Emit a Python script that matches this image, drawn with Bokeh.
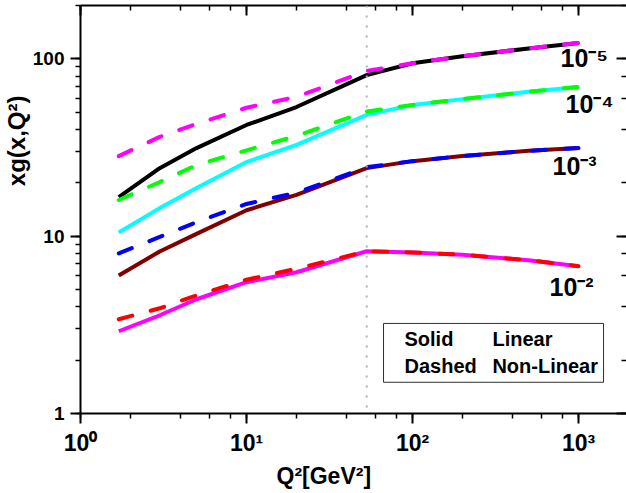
import math
from bokeh.plotting import figure
from bokeh.models import LogAxis, Label, Span, BoxAnnotation, Range1d, LogTicker, Title
from bokeh.embed import file_html
from bokeh.resources import INLINE

# ---- data ----
q2 = [1.7, 3, 5, 10, 20, 53, 100, 200, 500, 1000]
lin_1e5 = [16.6, 24.2, 31.4, 42.4, 53.5, 81.0, 94.5, 103.5, 114.5, 123.0]
nl_1e5 = [28.3, 36.3, 43.0, 53.0, 61.0, 85.5, 94.5, 103.5, 114.5, 123.0]
lin_1e4 = [10.5, 14.4, 18.7, 26.2, 32.7, 48.3, 55.0, 59.3, 65.2, 69.5]
nl_1e4 = [16.0, 20.2, 25.2, 30.5, 36.8, 50.5, 55.0, 59.3, 65.2, 69.5]
lin_1e3 = [6.0, 8.2, 10.3, 14.0, 17.1, 24.2, 26.5, 28.3, 30.3, 31.4]
nl_1e3 = [8.0, 9.9, 12.0, 15.2, 17.6, 24.5, 26.5, 28.3, 30.3, 31.4]
lin_1e2 = [2.91, 3.58, 4.41, 5.5, 6.26, 8.22, 8.1, 7.86, 7.32, 6.77]
nl_1e2 = [3.40, 3.92, 4.64, 5.68, 6.55, 8.22, 8.1, 7.86, 7.32, 6.77]
q2_boundary = 53
x_ticks = [1, 10, 100, 1000]
x_tick_labels = ["10\u2070", "10\u00b9", "10\u00b2", "10\u00b3"]
y_ticks = [1, 10, 100]
y_tick_labels = ["1", "10", "100"]
curve_labels = ["10\u207b\u2075", "10\u207b\u2074", "10\u207b\u00b3", "10\u207b\u00b2"]

FONT = "Liberation Sans"

p = figure(width=626, height=493, x_axis_type="log", y_axis_type="log",
           x_range=Range1d(1, 1946), y_range=Range1d(1, 200),
           output_backend="svg", toolbar_location=None,
           min_border_left=80, min_border_right=0, min_border_top=5, min_border_bottom=80)
p.outline_line_color = None
p.xgrid.visible = False
p.ygrid.visible = False
p.background_fill_color = "white"
p.border_fill_color = "white"

for ax in (p.xaxis[0], p.yaxis[0]):
    ax.axis_line_width = 2
    ax.major_tick_line_width = 2
    ax.minor_tick_line_width = 1.5
    ax.major_tick_out = 10
    ax.major_tick_in = 0
    ax.minor_tick_out = 5
    ax.minor_tick_in = 0
    ax.major_label_standoff = 6
    ax.major_label_text_font = FONT
    ax.major_label_text_font_style = "bold"
    ax.major_label_text_color = "black"

p.xaxis[0].ticker = LogTicker(desired_num_ticks=4)
p.xaxis[0].major_label_overrides = {t: s for t, s in zip(x_ticks, x_tick_labels)}
p.xaxis[0].major_label_text_font_size = "23px"
p.yaxis[0].major_label_overrides = {t: s for t, s in zip(y_ticks, y_tick_labels)}
p.yaxis[0].major_label_text_font_size = "19px"

# mirrored axes (top, right) with inward ticks, no visible labels
top = LogAxis()
right = LogAxis()
for ax in (top, right):
    ax.major_tick_in = 10
    ax.major_tick_out = 0
    ax.minor_tick_in = 5
    ax.minor_tick_out = 0
    ax.major_tick_line_width = 2
    ax.minor_tick_line_width = 1.5
    ax.axis_line_width = 2
    ax.major_label_text_font_size = "2px"
    ax.major_label_text_alpha = 0
    ax.major_label_standoff = 0
right.axis_line_color = None
p.add_layout(top, "above")
p.add_layout(right, "right")

# axis titles
p.add_layout(Title(text="Q\u00b2[GeV\u00b2]", align="left", offset=196, standoff=4,
                   text_font=FONT, text_font_style="bold", text_font_size="23px",
                   text_color="black"), "below")
p.add_layout(Title(text="xg(x,Q\u00b2)", align="right", offset=90, standoff=0,
                   text_font=FONT, text_font_style="bold", text_font_size="24px",
                   text_color="black"), "left")

# boundary line
p.add_layout(Span(location=q2_boundary, dimension="height", line_color="#B0B0B0",
                  line_dash="2 8", line_width=2))

# solid (linear) curves, then dashed (non-linear) on top
solid = [(lin_1e5, "#000000"), (lin_1e4, "#00FFFF"), (lin_1e3, "#800000"), (lin_1e2, "#FF00FF")]
dashed = [(nl_1e5, "#FF00FF"), (nl_1e4, "#00FF00"), (nl_1e3, "#0000FF"), (nl_1e2, "#FF0000")]
for ys, c in solid:
    p.line(q2, ys, line_color=c, line_width=4, line_join="round")
for ys, c in dashed:
    p.line(q2, ys, line_color=c, line_width=4, line_dash="14 19", line_cap="round")

# curve labels
label_pos = [(779, 84.5), (835, 46.4), (697, 20.7), (669, 4.29)]
for (lx, ly), t in zip(label_pos, curve_labels):
    p.add_layout(Label(x=lx, y=ly, text=t, text_font=FONT, text_font_style="bold",
                       text_font_size="25px", text_color="black"))

# legend box
p.add_layout(BoxAnnotation(left=66.9, right=1415, bottom=1.50, top=3.22,
                           fill_color="white", fill_alpha=1.0,
                           line_color="#303030", line_width=1, line_alpha=1.0))
for lx, ly, t in [(89.5, 2.27, "Solid"), (303, 2.27, "Linear"),
                  (89.5, 1.60, "Dashed"), (303, 1.60, "Non-Linear")]:
    p.add_layout(Label(x=lx, y=ly, text=t, text_font=FONT, text_font_style="bold",
                       text_font_size="20px", text_color="black"))

open("out.html", "w").write(file_html(p, INLINE))
